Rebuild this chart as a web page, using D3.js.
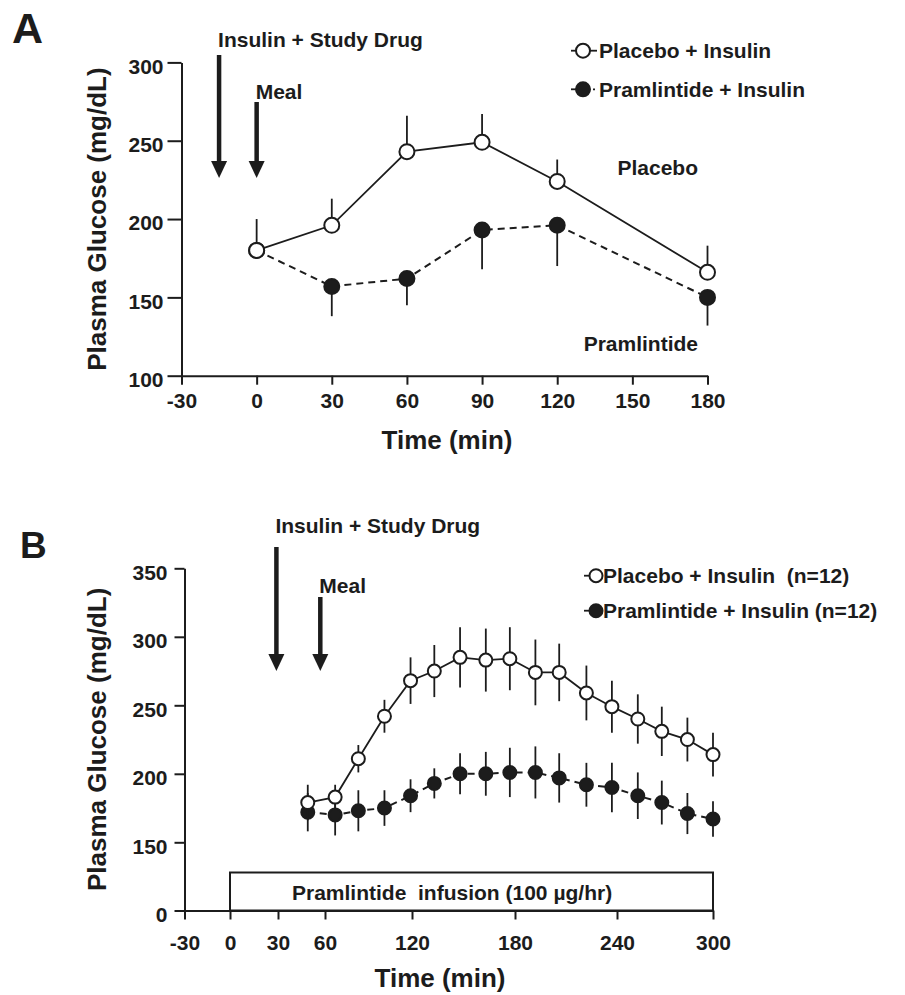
<!DOCTYPE html>
<html>
<head>
<meta charset="utf-8">
<script src="https://cdn.jsdelivr.net/npm/d3@7"></script>
<style>
  body { margin: 0; background: #fff; }
  svg text { font-family: "Liberation Sans", Arial, sans-serif; font-weight: bold; fill: #1c1c1c; }
</style>
</head>
<body>
<svg id="fig" width="905" height="995"></svg>
<script>
// ---- panel A data (mean, one-sided SE as drawn) ----
var timesA = [0, 30, 60, 90, 120, 180];
var placeboA = [180, 196, 243, 249, 224, 166];
var placeboSeA = [20, 17, 23, 18, 14, 17];
var pramA = [180, 157, 162, 193, 196, 150];
var pramSeA = [0, 19, 17, 25, 26, 18];
var xTicksA = [-30, 0, 30, 60, 90, 120, 150, 180];
var yTicksA = [100, 150, 200, 250, 300];

// ---- panel B data (mean +/- SE) ----
var timesB = [49, 67, 83, 101, 119, 133, 148, 163, 177, 192, 206, 222, 237, 253, 268, 284, 300];
var placeboB = [179, 183, 211, 242, 268, 275, 285, 283, 284, 274, 274, 259, 249, 240, 231, 225, 214];
var placeboSeB = [13, 9, 10, 12, 17, 19, 22, 23, 23, 24, 21, 20, 19, 18, 18, 16, 16];
var pramB = [172, 170, 173, 175, 184, 193, 200, 200, 201, 201, 197, 192, 190, 184, 179, 171, 167];
var pramSeB = [14, 15, 15, 13, 12, 11, 15, 16, 18, 19, 18, 16, 18, 17, 16, 15, 13];
var xTicksB = [-30, 0, 30, 60, 120, 180, 240, 300];
var yTicksB = [0, 150, 200, 250, 300, 350];

var legendA = ["Placebo + Insulin", "Pramlintide + Insulin"];
var legendB = ["Placebo + Insulin  (n=12)", "Pramlintide + Insulin (n=12)"];
var arrowsA = [{ t: -15, label: "Insulin + Study Drug" }, { t: 0, label: "Meal" }];
var arrowsB = [{ t: 29, label: "Insulin + Study Drug" }, { t: 57, label: "Meal" }];
var infusion = { from: 0, to: 300, label: "Pramlintide  infusion (100 \u00b5g/hr)" };

var ink = "#1c1c1c";
var svg = d3.select("#fig");

// scales
var xA = d3.scaleLinear().domain([-30, 180]).range([181.5, 707.5]);
var yA = d3.scaleLinear().domain([100, 300]).range([375.7, 62.4]);
// the B time axis is not linear in the figure, so map it piecewise
var xB = d3.scaleLinear().domain(xTicksB).range([184.5, 230, 278, 325, 412, 515, 617, 713]);
var yB = d3.scaleLinear().domain([0, 150, 350]).range([910.5, 842.3, 568.3]);

function styleAxis(g) {
  g.selectAll("path, line").attr("stroke", ink).attr("stroke-width", 2);
  g.selectAll("text").attr("font-size", 21).attr("fill", ink);
}

function drawAxes(x, y, xt, yt, o) {
  var y0 = y.range()[0];
  var x0 = x.range()[0];
  svg.append("g")
    .attr("transform", "translate(0," + y0 + ")")
    .call(d3.axisBottom(x).tickValues(xt).tickFormat(String)
      .tickSize(9).tickSizeOuter(0).tickPadding(o.xPad))
    .call(styleAxis);
  var gy = svg.append("g")
    .attr("transform", "translate(" + x0 + ",0)")
    .call(d3.axisLeft(y).tickValues(yt).tickFormat(String)
      .tickSize(o.yTick).tickSizeOuter(0).tickPadding(o.yPad))
    .call(styleAxis);
  gy.selectAll("text").attr("dy", "0.52em");

  svg.append("text")
    .attr("x", o.xTitleX).attr("y", o.xTitleY)
    .attr("text-anchor", "middle").attr("font-size", 26)
    .text("Time (min)");
  var cy = (y.range()[0] + y.range()[y.range().length - 1]) / 2;
  svg.append("text")
    .attr("transform", "translate(106," + cy + ") rotate(-90)")
    .attr("text-anchor", "middle").attr("font-size", 26)
    .text("Plasma Glucose (mg/dL)");
}

function drawArrows(list, x, o) {
  list.forEach(function(a, i) {
    var ax = x(a.t);
    var top = o.tops[i];
    svg.append("line")
      .attr("x1", ax).attr("x2", ax)
      .attr("y1", top).attr("y2", o.tip - 14)
      .attr("stroke", ink).attr("stroke-width", 4.5);
    svg.append("path")
      .attr("d", "M" + (ax - 8) + "," + (o.tip - 17) + "L" + (ax + 8) + "," + (o.tip - 17) +
        "L" + ax + "," + o.tip + "Z")
      .attr("fill", ink);
    svg.append("text")
      .attr("x", ax - 1).attr("y", o.labelY[i])
      .attr("font-size", 21)
      .text(a.label);
  });
}

function drawSeries(x, y, times, vals, se, filled, r, twoSided) {
  var pts = times.map(function(t, i) { return { t: t, v: vals[i], se: se[i] }; });
  var line = d3.line().x(function(d) { return x(d.t); }).y(function(d) { return y(d.v); });
  svg.append("path")
    .datum(pts)
    .attr("d", line)
    .attr("fill", "none")
    .attr("stroke", ink)
    .attr("stroke-width", filled ? 2 : 1.8)
    .attr("stroke-dasharray", filled ? "7,5" : null);

  svg.append("g").selectAll("line")
    .data(pts.filter(function(d) { return d.se > 0; }))
    .join("line")
    .attr("x1", function(d) { return x(d.t); })
    .attr("x2", function(d) { return x(d.t); })
    .attr("y1", function(d) {
      if (twoSided) return y(d.v - d.se);
      return y(d.v);
    })
    .attr("y2", function(d) {
      if (twoSided) return y(d.v + d.se);
      return filled ? y(d.v - d.se) : y(d.v + d.se);
    })
    .attr("stroke", ink).attr("stroke-width", 1.8);

  svg.append("g").selectAll("circle")
    .data(pts)
    .join("circle")
    .attr("cx", function(d) { return x(d.t); })
    .attr("cy", function(d) { return y(d.v); })
    .attr("r", r)
    .attr("fill", filled ? ink : "#fff")
    .attr("stroke", ink)
    .attr("stroke-width", 2);
}

function drawLegend(labels, o) {
  labels.forEach(function(lab, i) {
    var cy = o.y[i];
    var filled = i === 1;
    svg.append("line")
      .attr("x1", o.x - 12).attr("x2", o.x).attr("y1", cy).attr("y2", cy)
      .attr("stroke", ink).attr("stroke-width", 1.8);
    svg.append("line")
      .attr("x1", o.x).attr("x2", o.textX - 2).attr("y1", cy).attr("y2", cy)
      .attr("stroke", ink).attr("stroke-width", 1.8)
      .attr("stroke-dasharray", filled ? "2,3" : null);
    svg.append("circle")
      .attr("cx", o.x).attr("cy", cy).attr("r", o.r)
      .attr("fill", filled ? ink : "#fff")
      .attr("stroke", ink).attr("stroke-width", 2);
    svg.append("text")
      .attr("x", o.textX).attr("y", cy + 7.5)
      .attr("font-size", 21)
      .style("white-space", "pre")
      .text(lab);
  });
}

// ---------- panel A ----------
svg.append("text").attr("x", 12).attr("y", 43).attr("font-size", 43).text("A");
drawAxes(xA, yA, xTicksA, yTicksA, { xPad: 8.5, yTick: 14, yPad: 4, xTitleX: 447, xTitleY: 449 });
drawArrows(arrowsA, xA, { tops: [55, 102], tip: 178, labelY: [47, 99] });
drawSeries(xA, yA, timesA, pramA, pramSeA, true, 7.5, false);
drawSeries(xA, yA, timesA, placeboA, placeboSeA, false, 7.5, false);
drawLegend(legendA, { x: 583, y: [50.7, 89.3], r: 7, textX: 599 });
svg.append("text").attr("x", 698).attr("y", 175).attr("text-anchor", "end").attr("font-size", 21).text("Placebo");
svg.append("text").attr("x", 698).attr("y", 351).attr("text-anchor", "end").attr("font-size", 21).text("Pramlintide");

// ---------- panel B ----------
svg.append("text").attr("x", 20).attr("y", 558).attr("font-size", 37).text("B");
// infusion bar sits on the time axis
var boxTop = yB(0) - 38;
svg.append("rect")
  .attr("x", xB(infusion.from)).attr("y", boxTop)
  .attr("width", xB(infusion.to) - xB(infusion.from))
  .attr("height", yB(0) - boxTop)
  .attr("fill", "none").attr("stroke", ink).attr("stroke-width", 2);
svg.append("text")
  .attr("x", 292).attr("y", 900)
  .attr("font-size", 21)
  .style("white-space", "pre")
  .text(infusion.label);
drawAxes(xB, yB, xTicksB, yTicksB, { xPad: 15.5, yTick: 10, yPad: 7, xTitleX: 440, xTitleY: 987 });
drawArrows(arrowsB, xB, { tops: [547, 597], tip: 671, labelY: [533, 593] });
drawSeries(xB, yB, timesB, pramB, pramSeB, true, 6.5, true);
drawSeries(xB, yB, timesB, placeboB, placeboSeB, false, 6.5, true);
drawLegend(legendB, { x: 596, y: [575.7, 610.7], r: 6.5, textX: 603 });
</script>
</body>
</html>
